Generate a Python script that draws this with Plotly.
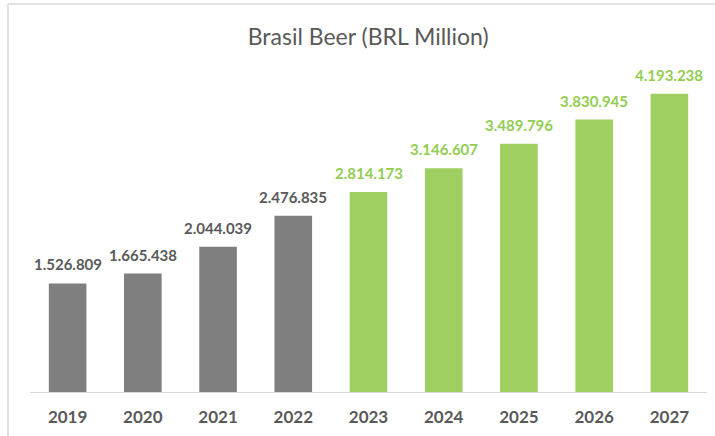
import plotly.graph_objects as go

years = ["2019", "2020", "2021", "2022", "2023", "2024", "2025", "2026", "2027"]
values = [1526.809, 1665.438, 2044.039, 2476.835, 2814.173, 3146.607, 3489.796, 3830.945, 4193.238]
labels = ["1.526.809", "1.665.438", "2.044.039", "2.476.835", "2.814.173",
          "3.146.607", "3.489.796", "3.830.945", "4.193.238"]
first_forecast_year = "2023"

GRAY_BAR = "#7f7f7f"
GRAY_TEXT = "#595959"
GREEN_BAR = "#9fcf60"
GREEN_TEXT = "#92cd52"

split = years.index(first_forecast_year)
bar_colors = [GRAY_BAR] * split + [GREEN_BAR] * (len(years) - split)
text_colors = [GRAY_TEXT] * split + [GREEN_TEXT] * (len(years) - split)

fig = go.Figure(
    go.Bar(
        x=years,
        y=values,
        marker=dict(color=bar_colors, line=dict(width=0)),
        hoverinfo="x+y",
    )
)

# value labels above each bar (category axis: x is the category's serial index)
for i, (val, lab, col) in enumerate(zip(values, labels, text_colors)):
    fig.add_annotation(
        x=i, y=val, text=lab,
        showarrow=False,
        xanchor="center", yanchor="bottom",
        yshift=8,
        font=dict(family="Lato", size=15, color=col, weight="bold"),
    )

fig.update_layout(
    width=715,
    height=436,
    margin=dict(l=30, r=8, t=72, b=44),
    paper_bgcolor="white",
    plot_bgcolor="white",
    bargap=0.5,
    showlegend=False,
    title=dict(
        text="Brasil Beer (BRL Million)",
        x=0.515,
        xanchor="center",
        y=0.915,
        yanchor="middle",
        font=dict(family="Lato", size=23, color="#595959"),
    ),
    xaxis=dict(
        type="category",
        showline=True,
        linecolor="#d9d9d9",
        linewidth=1,
        ticks="",
        ticklabelstandoff=10,
        tickfont=dict(family="Lato", size=17, color="#595959", weight="bold"),
        showgrid=False,
    ),
    yaxis=dict(
        range=[0, 4500],
        visible=False,
        showgrid=False,
    ),
    shapes=[
        # chart frame: left and top edges
        dict(type="line", xref="paper", yref="paper",
             x0=-0.0325, x1=-0.0325, y0=1.2125, y1=-0.2,
             line=dict(color="#d9d9d9", width=1.5)),
        dict(type="line", xref="paper", yref="paper",
             x0=-0.0325, x1=1.02, y0=1.2125, y1=1.2125,
             line=dict(color="#d9d9d9", width=1.5)),
    ],
)

fig.write_html("out.html")
